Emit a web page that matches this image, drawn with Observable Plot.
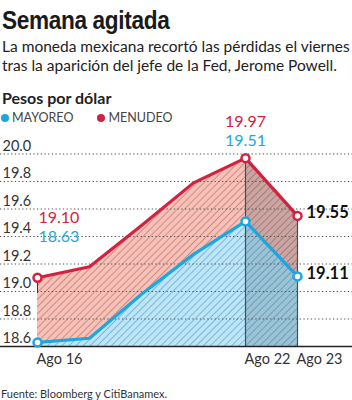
<!DOCTYPE html>
<html><head><meta charset="utf-8">
<script src="https://cdn.jsdelivr.net/npm/d3@7"></script>
<script src="https://cdn.jsdelivr.net/npm/@observablehq/plot@0.6"></script>
<style>
body{margin:0;background:#fff;font-family:Lato,sans-serif;}
#wrap{position:relative;width:352px;height:400px;overflow:hidden;background:#fff;}
.abs{position:absolute;white-space:nowrap;z-index:2;}
#title{left:2px;top:4px;font-family:"Liberation Sans Narrow",sans-serif;font-weight:bold;font-size:26px;letter-spacing:-0.4px;color:#1a1a1a;line-height:32px;transform:scaleX(0.87);transform-origin:0 0;}
#sub{left:2px;top:37px;font-size:15.5px;line-height:18.5px;color:#222;}
#unit{left:2px;top:88px;font-size:16px;font-weight:bold;color:#222;line-height:20px;}
#legend{left:1px;top:110px;font-size:12.5px;color:#444;line-height:16px;}
#legend span.d{display:inline-block;width:8px;height:8px;border-radius:50%;margin-right:3px;vertical-align:0px;}
#foot{left:1px;top:387px;font-size:11px;color:#333;line-height:14px;}
#chart{position:absolute;left:0;top:110px;z-index:1;}
</style></head>
<body><div id="wrap">
<div id="title" class="abs">Semana agitada</div>
<div id="sub" class="abs">La moneda mexicana recortó las pérdidas el viernes<br>tras la aparición del jefe de la Fed, Jerome Powell.</div>
<div id="unit" class="abs">Pesos por dólar</div>
<div id="legend" class="abs"><span class="d" style="background:#1ea6de"></span>MAYOREO<span style="display:inline-block;width:24px"></span><span class="d" style="background:#d4213f"></span>MENUDEO</div>
<div id="chart"></div>
<div id="foot" class="abs">Fuente: Bloomberg y CitiBanamex.</div>
</div>
<script>
const days = ["Ago 16","Ago 19","Ago 20","Ago 21","Ago 22","Ago 23"];
const mayoreo = [18.63, 18.66, 18.98, 19.27, 19.51, 19.11];
const menudeo = [19.10, 19.18, 19.48, 19.79, 19.97, 19.55];
const yTicks = [18.6, 18.8, 19.0, 19.2, 19.4, 19.6, 19.8, 20.0];
const xTicks = ["Ago 16","Ago 22","Ago 23"];
const labelDays = ["Ago 16","Ago 22","Ago 23"];

const RED = "#d4213f", BLUE = "#1ea6de";
const data = days.map((d,i)=>({day:d, mayoreo:mayoreo[i], menudeo:menudeo[i]}));
const last = data.slice(4);
const first = data.slice(0,1);
const mid = data.filter(d=>d.day==="Ago 22");
const end = data.filter(d=>d.day==="Ago 23");

const fmt = v => v.toFixed(2);

const chart = Plot.plot({
  width: 352, height: 260,
  marginLeft: 35, marginRight: 54, marginTop: 44, marginBottom: 24,
  style: {background: "transparent", fontFamily: "Lato, sans-serif", overflow: "visible"},
  x: {type: "point", domain: days, range: [35, 298], padding: 0, label: null},
  y: {domain: [18.6, 20.0], range: [236, 43.5], label: null},
  marks: [
    Plot.areaY(data, {x: "day", y1: 18.6, y2: "menudeo", fill: "url(#hatchRed)"}),
    Plot.areaY(data, {x: "day", y1: 18.6, y2: "mayoreo", fill: "url(#hatchBlue)"}),
    Plot.areaY(last, {x: "day", y1: 18.6, y2: "menudeo", fill: "#1b3a4c", fillOpacity: 0.2}),
    Plot.ruleY(yTicks.filter(t=>t>18.6), {y: d=>d, stroke: "#555", strokeWidth: 1.2, strokeDasharray: "1.3,2.4", insetLeft: -35, insetRight: -54}),
    Plot.axisY({ticks: yTicks, tickSize: 0, tickPadding: 0, textAnchor: "start", dx: -33, dy: -8, fontSize: 14.5, fill: "#333", label: null, tickFormat: d=>d.toFixed(1)}),
    Plot.axisX({ticks: xTicks, tickSize: 0, tickPadding: 7, textAnchor: "start", dx: -1, fontSize: 14.5, fill: "#333", label: null}),
    Plot.ruleX(first, {x: "day", y1: 18.6, y2: "menudeo", stroke: "#333", strokeWidth: 1, insetTop: -53}),
    Plot.ruleX(mid.concat(end), {x: "day", y1: 18.6, y2: "menudeo", stroke: "#3a5363", strokeWidth: 1.2}),
    Plot.ruleY([18.6], {stroke: "#222", strokeWidth: 1.3, insetLeft: -35, insetRight: -54}),
    Plot.line(data, {x: "day", y: "menudeo", stroke: RED, strokeWidth: 3.2}),
    Plot.line(data, {x: "day", y: "mayoreo", stroke: BLUE, strokeWidth: 3.2}),
    Plot.dot(data.filter(d=>labelDays.includes(d.day)), {x: "day", y: "menudeo", r: 4, fill: "white", stroke: RED, strokeWidth: 2.5}),
    Plot.dot(data.filter(d=>labelDays.includes(d.day)), {x: "day", y: "mayoreo", r: 4, fill: "white", stroke: BLUE, strokeWidth: 2.5}),
    Plot.text(first, {x: "day", y: "menudeo", text: d=>fmt(d.menudeo), fill: RED, fontSize: 16, textAnchor: "start", dx: 1, dy: -60}),
    Plot.text(first, {x: "day", y: "menudeo", text: d=>fmt(d.mayoreo), fill: BLUE, fontSize: 16, textAnchor: "start", dx: 1, dy: -41}),
    Plot.text(mid, {x: "day", y: "menudeo", text: d=>fmt(d.menudeo), fill: RED, fontSize: 16, dy: -36}),
    Plot.text(mid, {x: "day", y: "menudeo", text: d=>fmt(d.mayoreo), fill: BLUE, fontSize: 16, dy: -17}),
    Plot.text(end, {x: "day", y: "menudeo", text: d=>fmt(d.menudeo), fill: "#111", fontWeight: "bold", fontSize: 16.5, textAnchor: "start", dx: 9, dy: -3}),
    Plot.text(end, {x: "day", y: "mayoreo", text: d=>fmt(d.mayoreo), fill: "#111", fontWeight: "bold", fontSize: 16.5, textAnchor: "start", dx: 9, dy: -3})
  ]
});

const ns = "http://www.w3.org/2000/svg";
const defs = document.createElementNS(ns, "defs");
defs.innerHTML = `
<pattern id="hatchRed" patternUnits="userSpaceOnUse" width="5" height="5" patternTransform="rotate(45)">
  <rect width="5" height="5" fill="#f6c1b9"/>
  <line x1="0.5" y1="0" x2="0.5" y2="5" stroke="#d08b81" stroke-width="1"/>
</pattern>
<pattern id="hatchBlue" patternUnits="userSpaceOnUse" width="5" height="5" patternTransform="rotate(45)">
  <rect width="5" height="5" fill="#bde5f8"/>
  <line x1="0.5" y1="0" x2="0.5" y2="5" stroke="#7fb9d4" stroke-width="1"/>
</pattern>`;
chart.insertBefore(defs, chart.firstChild);
document.getElementById("chart").appendChild(chart);
</script>
</body></html>
